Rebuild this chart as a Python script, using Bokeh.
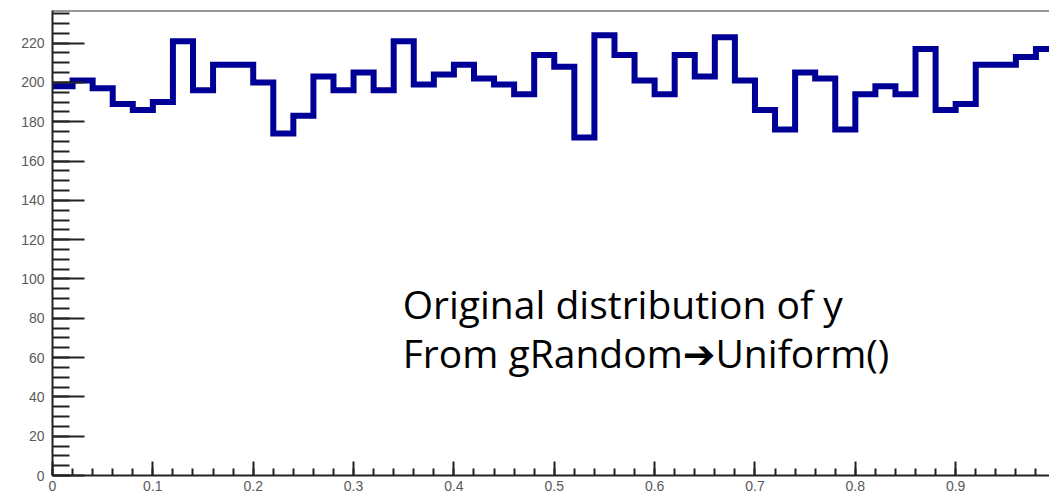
import numpy as np
from bokeh.plotting import figure
from bokeh.models import (Range1d, SingleIntervalTicker, Span, Label,
                          CustomJSTickFormatter)
from bokeh.embed import file_html
from bokeh.resources import INLINE

# Histogram of y: 50 bins on [0, 1]
bin_lo = 0.0
bin_hi = 1.0
n_bins = 50
counts = [198, 201, 197, 189, 186, 190, 221, 196, 209, 209,
          200, 174, 183, 203, 196, 205, 196, 221, 199, 204,
          209, 202, 199, 194, 214, 208, 172, 224, 214, 201,
          194, 214, 203, 223, 201, 186, 176, 205, 202, 176,
          194, 198, 194, 217, 186, 189, 209, 209, 213, 217]

caption_1 = "Original distribution of y"
caption_2 = "From gRandom\u2794Uniform()"

edges = np.linspace(bin_lo, bin_hi, n_bins + 1)
step_y = list(counts) + [counts[-1]]

p = figure(width=1049, height=497, output_backend="svg", toolbar_location=None,
           x_range=Range1d(0, 0.9935), y_range=Range1d(0, 236.6),
           min_border_left=52, min_border_right=0, min_border_top=10,
           min_border_bottom=22)
p.background_fill_color = "white"
p.border_fill_color = "white"
p.outline_line_color = None
p.xgrid.visible = False
p.ygrid.visible = False

p.step(x=edges, y=step_y, mode="after", line_color="#000096", line_width=6,
       line_join="miter")

# frame top edge
p.add_layout(Span(location=236.6, dimension="width", line_color="#333333",
                  line_width=2))

axis_col = "#222222"
label_col = "#5a5a5a"
for ax in (p.xaxis[0], p.yaxis[0]):
    ax.axis_line_color = axis_col
    ax.axis_line_width = 2
    ax.major_tick_line_color = axis_col
    ax.major_tick_line_width = 2
    ax.minor_tick_line_color = axis_col
    ax.minor_tick_line_width = 2
    ax.major_tick_out = 0
    ax.minor_tick_out = 0
    ax.major_label_text_font = "Liberation Sans"
    ax.major_label_text_font_size = "14px"
    ax.major_label_text_color = label_col

p.xaxis.ticker = SingleIntervalTicker(interval=0.1, num_minor_ticks=5)
p.xaxis.formatter = CustomJSTickFormatter(code="return String(Math.round(tick*10)/10);")
p.xaxis.major_tick_in = 14
p.xaxis.minor_tick_in = 7
p.xaxis.major_label_standoff = 5

p.yaxis.ticker = SingleIntervalTicker(interval=20, num_minor_ticks=4)
p.yaxis.major_tick_in = 32
p.yaxis.minor_tick_in = 17
p.yaxis.major_label_standoff = 8

for txt, yv in ((caption_1, 87.5), (caption_2, 62.6)):
    p.add_layout(Label(x=0.349, y=yv, text=txt,
                       text_font="'Open Sans', 'DejaVu Sans'",
                       text_font_size="39px", text_color="black",
                       text_baseline="alphabetic", text_align="left"))

open("out.html", "w").write(file_html(p, INLINE))
